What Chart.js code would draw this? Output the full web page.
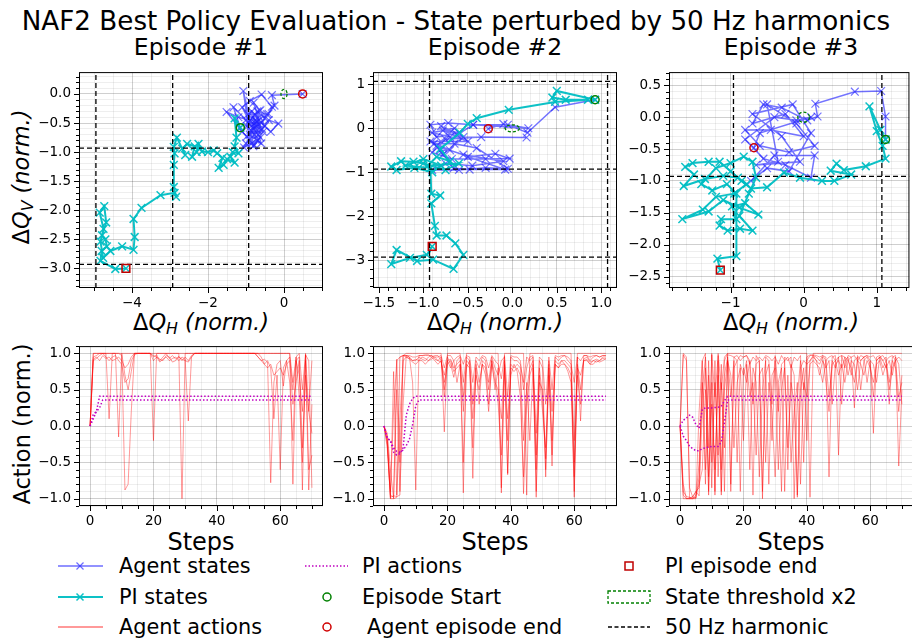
<!DOCTYPE html>
<html><head><meta charset="utf-8">
<script src="https://cdn.jsdelivr.net/npm/chart.js@4.4.1/dist/chart.umd.min.js"></script>
<style>
html,body{margin:0;padding:0;background:#fff}
body{width:912px;height:642px;overflow:hidden;position:relative;font-family:"DejaVu Sans",sans-serif;color:#000}
canvas{position:absolute}
.t{position:absolute;white-space:nowrap;line-height:1;transform:translate(-50%,-50%)}
.t.r{transform:translate(-50%,-50%) rotate(-90deg)}
.l{position:absolute;white-space:nowrap;line-height:1;transform:translateY(-50%);font-size:20.8px}
sub{font-size:0.7em;vertical-align:-0.3em;line-height:0}
</style></head><body>
<div class="t" style="left:456px;top:21px;font-size:26.2px">NAF2 Best Policy Evaluation - State perturbed by 50 Hz harmonics</div>
<div class="t" style="left:201px;top:48px;font-size:23.5px">Episode #1</div>
<div class="t" style="left:495px;top:48px;font-size:23.5px">Episode #2</div>
<div class="t" style="left:791px;top:48px;font-size:23.5px">Episode #3</div>
<div class="t" style="left:201px;top:322px;font-size:22.5px">Δ<i>Q<sub>H</sub> (norm.)</i></div>
<div class="t" style="left:495px;top:322px;font-size:22.5px">Δ<i>Q<sub>H</sub> (norm.)</i></div>
<div class="t" style="left:791px;top:322px;font-size:22.5px">Δ<i>Q<sub>H</sub> (norm.)</i></div>
<div class="t r" style="left:21px;top:177px;font-size:22.5px">Δ<i>Q<sub>V</sub> (norm.)</i></div>
<div class="t r" style="left:22px;top:424px;font-size:22.5px">Action (norm.)</div>
<div class="t" style="left:201px;top:542px;font-size:24px">Steps</div>
<div class="t" style="left:495px;top:542px;font-size:24px">Steps</div>
<div class="t" style="left:791px;top:542px;font-size:24px">Steps</div>

<svg style="position:absolute;left:0;top:550px" width="912" height="92">
  <line x1="58" y1="16" x2="103" y2="16" stroke="rgba(30,30,255,0.65)" stroke-width="1.6"/>
  <path d="M76.5 12.5 L83.5 19.5 M76.5 19.5 L83.5 12.5" stroke="rgba(30,30,255,0.65)" stroke-width="1.2"/>
  <line x1="58" y1="47" x2="103" y2="47" stroke="rgba(0,190,195,0.95)" stroke-width="2"/>
  <path d="M76.5 43.5 L83.5 50.5 M76.5 50.5 L83.5 43.5" stroke="rgba(0,190,195,0.95)" stroke-width="1.5"/>
  <line x1="58" y1="77" x2="103" y2="77" stroke="rgba(255,0,0,0.4)" stroke-width="2"/>
  <line x1="305" y1="16" x2="348" y2="16" stroke="#c000c0" stroke-width="1.5" stroke-dasharray="1.5 2"/>
  <circle cx="327" cy="47" r="4" fill="none" stroke="#008000" stroke-width="1.5"/>
  <circle cx="327" cy="77" r="4" fill="none" stroke="#d00000" stroke-width="1.5"/>
  <rect x="625" y="12" width="8" height="8" fill="none" stroke="#c00000" stroke-width="1.5"/>
  <rect x="608" y="41" width="42" height="12" fill="none" stroke="#008000" stroke-width="1.3" stroke-dasharray="3 2"/>
  <line x1="608" y1="77" x2="650" y2="77" stroke="#000" stroke-width="1.3" stroke-dasharray="4 2.5"/>
</svg>
<div class="l" style="left:119px;top:566px">Agent states</div>
<div class="l" style="left:119px;top:597px">PI states</div>
<div class="l" style="left:119px;top:627px">Agent actions</div>
<div class="l" style="left:362px;top:566px">PI actions</div>
<div class="l" style="left:362px;top:597px">Episode Start</div>
<div class="l" style="left:367px;top:627px">Agent episode end</div>
<div class="l" style="left:665px;top:566px">PI episode end</div>
<div class="l" style="left:665px;top:597px">State threshold x2</div>
<div class="l" style="left:665px;top:627px">50 Hz harmonic</div>

<script>
// ---------------- DATA ----------------
// State trajectories [dQ_H, dQ_V]; first point = episode start, last point = episode end
const ep1AgentStates = [[-1.15,-0.58],[-1.33,-0.23],[-1.0,-0.45],[-0.85,-0.3],[-0.76,-0.5],[-0.98,-0.73],[-0.7,-0.62],[-0.9,-0.45],[-1.07,0.05],[-0.95,-0.5],[-0.75,-0.55],[-0.85,-0.85],[-0.62,-0.75],[-1.05,-0.92],[-0.8,-0.6],[-0.5,-0.55],[-0.7,-0.3],[-0.45,-0.35],[-0.82,-0.4],[-0.6,-0.85],[-0.9,-0.7],[-0.72,-0.48],[-1.2,-0.4],[-1.51,-0.31],[-1.1,-0.65],[-0.78,-0.88],[-0.55,-0.65],[-0.75,-0.45],[-0.62,-0.28],[-0.98,-0.55],[-0.81,-0.9],[-0.68,-0.7],[-0.4,-0.45],[-0.15,-0.51],[-0.35,-0.65],[-0.6,-0.5],[-0.88,-0.62],[-0.7,-0.8],[-0.95,-0.35],[-0.76,-0.35],[-0.58,-0.6],[-0.78,-0.7],[-1.0,-0.85],[-0.72,-0.55],[-0.5,-0.42],[-0.8,-0.15],[-0.65,-0.45],[-0.85,-0.55],[-1.1,-0.23],[-0.9,-0.12],[-0.59,-0.01],[-0.32,-0.22],[-0.41,-0.34],[-0.25,-0.2],[-0.32,-0.02],[0.49,0.0]];
const ep1PIStates = [[-1.15,-0.58],[-1.3,-0.42],[-1.25,-0.75],[-1.3,-0.9],[-1.2,-1.02],[-1.35,-1.0],[-1.41,-1.08],[-1.3,-1.18],[-1.5,-1.12],[-1.59,-1.22],[-1.72,-1.27],[-1.62,-1.1],[-1.76,-1.02],[-1.85,-0.97],[-2.0,-1.0],[-2.16,-0.99],[-2.25,-0.86],[-2.3,-1.0],[-2.42,-1.08],[-2.35,-0.9],[-2.55,-0.86],[-2.68,-0.94],[-2.6,-1.05],[-2.82,-0.75],[-2.9,-0.91],[-2.88,-1.02],[-2.9,-1.22],[-2.9,-1.6],[-2.84,-1.77],[-2.88,-1.7],[-3.25,-1.74],[-3.75,-1.96],[-3.96,-2.15],[-3.93,-2.46],[-3.96,-2.68],[-4.26,-2.62],[-4.57,-2.7],[-4.76,-2.82],[-4.83,-2.54],[-4.75,-2.32],[-4.85,-2.04],[-4.73,-1.93],[-4.68,-2.21],[-4.79,-2.43],[-4.7,-2.5],[-4.66,-2.62],[-4.8,-2.7],[-4.83,-2.87],[-4.44,-3.01],[-4.16,-3.0]];
const ep2AgentStates = [[0.93,0.65],[0.48,0.48],[0.17,-0.1],[-0.05,0.08],[-0.44,0.08],[-0.72,0.12],[-0.92,0.08],[-0.85,-0.2],[-0.6,-0.1],[-0.78,-0.05],[-0.5,-0.3],[-0.92,-0.3],[-0.7,-0.5],[-0.81,-0.5],[-0.66,-0.91],[-0.48,-0.94],[-0.08,-0.94],[-0.5,-0.65],[-0.19,-0.58],[-0.03,-0.69],[-0.3,-0.7],[-0.68,-0.7],[-0.9,-0.55],[-0.75,-0.25],[-0.35,-0.2],[0.16,-0.21],[-0.7,-0.2],[-0.9,-0.1],[-0.65,0.0],[-0.85,-0.4],[-0.55,-0.6],[-0.1,-0.75],[-0.45,-0.85],[-0.75,-0.8],[-0.9,-0.95],[-0.6,-0.95],[-0.3,-0.9],[-0.05,-0.92],[-0.4,-0.45],[-0.65,-0.35],[-0.88,-0.35],[-0.78,-0.6],[-0.55,-0.2],[-0.8,0.05],[-0.62,-0.15],[-0.44,0.08],[0.18,0.0],[-0.1,0.1],[-0.27,-0.01]];
const ep2PIStates = [[0.93,0.65],[0.5,0.85],[0.45,0.7],[0.6,0.65],[0.85,0.65],[0.48,0.6],[-0.04,0.42],[-0.4,0.23],[-0.5,0.1],[-0.59,-0.1],[-0.81,-0.47],[-0.7,-0.75],[-0.85,-0.65],[-0.95,-0.85],[-0.6,-0.8],[-0.75,-0.95],[-1.0,-0.8],[-1.11,-0.76],[-1.25,-0.75],[-1.36,-0.87],[-1.3,-0.95],[-1.1,-0.9],[-0.9,-1.0],[-0.8,-0.85],[-1.0,-0.7],[-1.2,-0.85],[-0.92,-0.9],[-0.91,-1.49],[-0.81,-1.53],[-0.91,-1.71],[-0.87,-2.22],[-0.85,-2.44],[-0.74,-2.44],[-0.64,-2.62],[-0.55,-2.88],[-0.66,-3.2],[-0.89,-2.99],[-1.07,-3.02],[-1.3,-2.77],[-1.36,-3.09],[-1.15,-2.95],[-0.96,-2.88],[-0.9,-2.69]];
const ep3AgentStates = [[1.12,-0.35],[1.12,0.01],[1.06,0.41],[0.7,0.4],[0.16,0.21],[0.19,0.01],[0.05,-0.05],[-0.3,0.15],[-0.55,0.2],[-0.7,-0.1],[-0.25,0.05],[0.0,-0.3],[-0.45,-0.2],[-0.8,-0.2],[-0.6,-0.45],[-0.2,-0.55],[0.15,-0.45],[-0.1,-0.1],[-0.5,0.2],[-0.35,-0.7],[-0.65,-0.75],[-0.05,-0.7],[-0.3,-0.3],[-0.7,0.05],[-0.15,0.2],[0.1,-0.25],[-0.2,-0.85],[-0.5,-0.8],[-0.72,-1.0],[-0.4,-0.6],[0.15,-0.6],[0.1,-0.95],[-0.25,-0.75],[-0.55,-0.65],[-0.8,-0.35],[-0.4,0.0],[-0.1,-0.05],[0.1,0.0],[-0.6,-0.25],[-0.68,-0.48]];
const ep3PIStates = [[1.12,-0.35],[1.05,-0.2],[0.9,0.17],[1.0,-0.22],[1.08,-0.45],[1.12,-0.65],[0.85,-0.77],[0.55,-0.83],[0.45,-0.73],[0.37,-0.84],[0.65,-0.9],[0.42,-1.0],[0.25,-1.0],[-0.05,-0.95],[-0.27,-0.87],[-0.5,-1.1],[-0.72,-1.12],[-0.85,-1.0],[-1.0,-0.85],[-1.15,-0.7],[-1.3,-0.7],[-1.52,-0.72],[-1.62,-0.78],[-1.5,-0.9],[-1.64,-1.08],[-1.35,-0.97],[-1.1,-0.92],[-0.9,-0.95],[-0.78,-1.05],[-0.95,-1.2],[-1.2,-1.25],[-1.38,-1.45],[-1.66,-1.6],[-1.3,-1.48],[-1.1,-1.3],[-0.88,-1.42],[-0.62,-1.53],[-0.8,-1.35],[-0.98,-1.4],[-0.92,-1.6],[-1.13,-1.6],[-1.15,-1.7],[-1.04,-1.78],[-0.87,-1.75],[-0.7,-1.78],[-0.88,-1.55],[-0.75,-1.2],[-0.65,-0.95],[-0.7,-0.7],[-0.82,-0.62],[-1.0,-0.72],[-1.2,-0.8],[-1.4,-1.05],[-1.25,-1.15],[-1.05,-1.05],[-0.92,-1.2],[-0.92,-2.18],[-1.18,-2.22],[-1.14,-2.4]];

// 50 Hz harmonic positions (normalised) and state threshold x2
const ep1HarmonicX = [-4.95,-2.93,-0.93];
const ep1HarmonicY = [-0.93,-2.93];
const ep2HarmonicX = [-0.93,1.07];
const ep2HarmonicY = [1.07,-0.93,-2.93];
const ep3HarmonicX = [-0.96,1.07];
const ep3HarmonicY = [-0.93];
const stateThreshold2 = 0.08;

// Agent actions per step (index = step 0..70), one array per action dimension
const ep1AgentActions = [
 [0,1,1,1,1,1,1,1,1,1, 0.97,-0.88,-0.8,0.2,1,1,1,1,1,1, -0.2,1,1,1,1,1,1,1,1,-1, 1,1,1,1,1,1,1,1,1,1, 1,1,1,1,1,1,1,1,1,1, 1,1,1,1,1,1,1,1,1,1, 1,1,1,1,-0.8,0.9,0.95,-0.88,0.98,0.9,-0.85],
 [0,0.95,0.97,1,1,1,0.1,1,1,-0.15, 1,0.7,0.5,0.75,1,1,1,1,1,1, 0.9,0.95,0.88,0.92,0.95,0.9,0.93,0.95,0.9,0.95, 0.92,0.07,0.95,1,1,1,1,1,1,1, 1,1,1,1,1,1,1,1,1,1, 1,1,1,0.95,0.9,0.92,0.88,-0.78,0.6,0.85, 0.9,0.55,0.9,0.95,0.5,0.9,0.7,0.2,0.98,-0.6,-0.4],
 [0,0.9,0.93,0.97,1,0.95,0.9,0.95,0.97,0.9, 0.85,0.6,0.65,0.9,0.98,1,1,1,1,1, 0.95,0.98,0.9,0.95,1,0.93,0.97,0.92,0.96,0.9, 0.95,0.9,0.97,1,1,1,1,1,1,1, 1,1,1,1,1,1,1,1,1,1, 1,1,1,1,0.95,0.85,0.9,0.8,0.1,0.7, -0.6,0.8,0.9,0.6,-0.2,0.95,0.4,-0.5,0.9,-0.88,0.3],
 [0,0.92,0.95,0.9,0.97,0.93,0.95,0.9,0.92,0.95, 0.9,0.8,0.85,0.95,1,1,1,1,1,1, 0.97,0.95,0.92,0.9,0.97,0.95,0.88,0.9,0.95,0.92, 0.9,0.88,0.95,1,1,1,1,1,1,1, 1,1,1,1,1,1,1,1,1,1, 1,1,1,0.95,0.9,0.85,0.8,0.85,0.7,0.75, 0.8,0.7,0.85,0.9,0.3,0.6,0.9,-0.3,0.7,0.2,-0.1],
 [0,1,1,1,1,1,1,1,1,1, 1,1,1,1,1,1,1,1,1,1, 1,1,1,1,1,1,1,1,1,1, 1,1,1,1,1,1,1,1,1,1, 1,1,1,1,1,1,1,1,1,1, 1,1,1,1,1,1,1,1,1,1, 1,1,1,1,0.6,0.95,1,0.5,1,0.2,0.9]
];
const ep2AgentActions = [
 [0,-0.2,-1,-1,0.92,-0.5,0.97,1,1,1, 1,1,1,1,1,1,1,1,1,-0.08, 1,1,1,1,1,-0.92,1,1,1,1, 1,1,1,1,1,1,1,-0.92,1,1, 1,1,1,1,1,-0.95,1,1,1,1, 1,1,1,1,1,1,1,1,1,1, -0.98,1,1,1,1,1,1,1,1,1,1],
 [0,-0.2,-1,0.75,-0.95,0.95,0.97,0.97,0.95,0.6, -0.88,0.97,0.97,0.98,0.98,0.95,0.97,0.97,0.9,0.5, 0.95,0.85,0.67,0.9,0.95,0.6,0.95,0.9,-0.72,0.9, 0.8,0.95,0.9,0.6,0.95,0.8,0.7,0.9,0.95,-0.67, 0.95,0.9,0.9,0.85,0.6,0.95,0.9,0.95,-0.98,0.9, 0.8,-0.7,0.9,-0.55,0.95,0.9,0.95,0.97,0.9,0.85, 0.6,0.95,0.07,0.97,0.97,0.9,0.95,0.97,0.95,0.97,0.97],
 [0,-0.25,-0.95,-0.98,0.5,-0.9,0.3,0.97,0.95,0.9, 0.9,0.95,0.92,0.9,0.95,0.97,0.92,0.9,0.95,0.4, 0.9,0.92,0.8,0.85,0.9,0.2,0.9,0.85,-0.3,0.8, 0.3,0.9,0.85,0.5,0.9,0.7,0.3,-0.4,0.9,-0.2, 0.85,0.8,0.85,0.8,-0.2,0.5,0.8,0.9,-0.6,0.8, 0.4,-0.45,0.85,-0.2,0.9,0.85,0.9,0.9,0.85,0.8, -0.7,0.85,0.5,0.92,0.95,0.88,0.9,0.92,0.9,0.95,0.95],
 [0,-0.3,-0.98,-0.96,-0.97,-0.95,0.97,0.95,0.92,0.88, 0.85,0.9,0.9,0.85,0.9,0.95,0.9,0.85,0.9,0.6, 0.85,0.9,0.75,0.8,0.85,0.4,0.85,0.8,0.1,0.7, 0.5,0.85,0.8,0.3,0.85,0.6,0.5,0.1,0.85,-0.65, 0.8,0.75,0.8,0.7,-0.93,0.3,0.7,0.85,-0.4,0.7, 0.2,-0.3,0.8,0.2,0.85,0.8,0.85,0.85,0.8,0.7, -0.5,0.8,0.7,0.9,0.9,0.85,0.85,0.9,0.88,0.9,0.93],
 [0,-0.15,-0.9,0.2,0.9,0.95,0.97,0.97,0.97,0.95, 0.95,0.97,0.97,0.97,0.97,0.97,0.95,0.95,0.97,0.8, 0.97,0.97,0.9,0.95,0.97,0.85,0.97,0.95,0.6,0.95, 0.9,0.97,0.95,0.8,0.97,0.9,0.85,0.65,0.97,0.4, 0.97,0.95,0.95,0.9,0.5,0.8,0.95,0.97,-0.1,0.95, 0.9,0.3,0.95,0.5,0.97,0.95,0.97,0.97,0.95,0.9, -0.2,0.95,0.9,0.97,0.97,0.95,0.97,0.97,0.95,0.97,0.97],
 [0,-0.1,-0.6,-1,-0.98,0.1,0.9,0.95,0.93,0.9, 0.92,0.9,0.95,0.93,0.9,0.92,0.95,0.9,0.88,0.7, 0.9,0.8,0.9,0.6,0.85,-0.5,0.8,0.9,0.3,0.85, 0.6,0.85,0.7,0.2,0.9,0.5,0.8,-0.85,0.8,0.1, 0.7,0.85,0.75,0.4,-0.7,0.6,-0.2,0.8,-0.9,0.6, 0.5,-0.6,0.7,-0.4,0.85,0.8,0.9,0.85,0.75,0.6, -0.9,0.7,0.3,0.9,0.92,0.85,0.9,0.88,0.9,0.93,0.92]
];
const ep3AgentActions = [
 [0,1,0.95,-1,-1,-1,0.2,0.9,1,-0.9, 1,-0.95,1,0.5,0.95,1,1,1,1,1, 1,1,1,1,1,1,1,1,1,1, 1,1,1,1,1,1,1,1,1,1, 1,-0.98,1,1,1,1,1,1,1,1, 1,1,1,1,1,1,1,1,1,1, 1,1,1,1,1,1,1,1,1,1,1],
 [0,-1,-1,-1,-1,-0.98,-0.5,0.5,0.95,-0.3, 0.98,0.4,0.97,-0.9,0.9,1,-0.9,0.95,0.97,0.9, 0.95,0.97,0.9,-0.95,0.97,0.9,-1,0.95,0.9,0.3, 0.97,0.5,-0.9,0.95,0.9,0.95,-1,0.4,0.9,0.5, 0.95,0.98,0.97,0.95,0.9,0.97,0.95,-0.7,0.95,0.97, -0.4,0.97,0.95,0.9,0.95,0.25,0.97,0.9,0.95,0.97, 0.9,-0.1,0.95,0.97,0.9,0.95,0.3,0.95,0.97,-0.55,0.5],
 [0,-0.95,-1,-1,-0.98,-0.9,-0.96,0.2,0.8,-0.95, 0.6,-0.9,0.9,-0.6,0.7,0.95,0.4,0.9,-0.5,0.85, 0.7,0.9,-0.6,0.8,0.6,-0.7,0.5,0.9,-0.8,0.7, 0.8,-0.6,0.5,0.8,-0.3,0.6,0.3,-0.98,0.5,0.8, -0.2,0.9,0.97,0.9,0.85,0.95,0.6,0.2,0.9,0.8, 0.95,0.3,0.9,0.95,0.7,0.9,0.95,0.5,0.9,0.95, 0.85,0.4,0.9,0.95,0.8,0.9,0.6,0.9,0.8,0.2,0.7],
 [0,-0.9,-0.97,-0.98,-1,-0.95,-0.8,-0.6,0.5,-0.7, 0.3,-0.6,0.7,-0.95,0.5,0.9,0.7,-0.3,0.6,0.8, -0.2,0.85,0.4,0.6,-0.4,0.7,0.8,-0.5,0.6,0.2, -0.7,0.6,0.8,-0.9,0.7,-0.5,0.2,0.6,-0.8,0.6, 0.4,0.85,0.9,0.85,0.8,0.6,0.9,0.4,0.85,0.9, 0.7,0.85,0.6,0.9,0.8,0.6,0.9,0.85,0.7,0.9, 0.8,0.6,0.85,0.9,0.7,0.85,0.5,0.8,0.9,0.4,0.6],
 [0,0.98,0.9,-0.85,-0.98,-0.99,-0.7,0.6,-0.8,0.9, -0.5,0.6,-0.4,0.85,-0.9,0.98,0.97,0.95,0.9,0.97, 0.95,0.97,0.85,0.95,0.9,0.95,0.9,0.97,0.95,0.9, 0.95,0.85,0.97,0.9,0.95,0.8,0.95,0.9,0.97,-0.5, 0.9,0.97,0.98,0.97,0.95,0.97,0.9,0.95,0.97,0.9, 0.95,0.97,0.8,0.97,0.95,0.97,0.9,0.97,0.95,0.97, 0.95,0.97,0.9,0.95,0.97,0.9,0.95,0.97,0.9,0.95,0.9],
 [0,-0.8,-1,-0.99,-0.97,-0.9,-0.85,0.9,-0.6,0.7, -0.85,0.9,-0.7,0.6,-0.3,0.9,-0.8,0.8,0.9,-0.9, 0.8,0.6,0.9,0.3,0.85,0.9,-0.9,0.7,0.85,-0.2, 0.9,0.2,0.85,0.9,-0.6,0.85,0.7,-0.95,0.8,0.9, 0.85,0.9,0.95,0.9,0.7,0.9,0.8,0.9,0.3,0.85, 0.9,0.8,0.95,0.7,0.9,0.85,0.5,0.9,0.95,0.6, 0.9,0.85,0.6,0.95,0.9,0.8,0.9,0.7,0.95,0.85,0.3]
];
// PI actions as [step, value] (value constant between listed steps)
const ep1PIActions = [
 [[0,0],[1,0.16],[2,0.2],[3,0.41],[70,0.41]],
 [[0,0],[1,0.1],[2,0.2],[3,0.25],[4,0.36],[70,0.36]]
];
const ep2PIActions = [
 [[0,0],[1,-0.17],[2,-0.2],[3,-0.36],[4,-0.4],[5,-0.38],[6,-0.3],[7,0.15],[8,0.3],[9,0.38],[10,0.41],[70,0.41]],
 [[0,0],[1,-0.17],[2,-0.2],[3,-0.3],[4,-0.35],[5,-0.36],[6,-0.33],[7,-0.27],[8,-0.18],[9,0.02],[10,0.28],[11,0.36],[70,0.36]]
];
const ep3PIActions = [
 [[0,0],[1,0.08],[2,0.11],[3,0.15],[4,0.12],[5,0.02],[6,-0.03],[7,0.23],[8,0.25],[10,0.25],[12,0.26],[13,0.27],[14,0.35],[15,0.41],[70,0.41]],
 [[0,0],[1,-0.14],[2,-0.2],[3,-0.28],[4,-0.31],[5,-0.34],[6,-0.34],[7,-0.31],[8,-0.3],[10,-0.28],[12,-0.28],[13,-0.22],[14,0.05],[15,0.36],[70,0.36]]
];

// Axis ranges, ticks and labels
const ep1XRange = [-5.395,1.026], ep1YRange = [-3.337,0.376];
const ep2XRange = [-1.565,1.176], ep2YRange = [-3.635,1.279];
const ep3XRange = [-1.842,1.447], ep3YRange = [-2.68,0.707];
const stepRange = [-3.5,73.5], actionRange = [-1.1,1.1];
const ep1XTicks = [-4,-2,0], ep1XLabels = ['−4','−2','0'];
const ep1YTicks = [0,-0.5,-1,-1.5,-2,-2.5,-3], ep1YLabels = ['0.0','−0.5','−1.0','−1.5','−2.0','−2.5','−3.0'];
const ep2XTicks = [-1.5,-1,-0.5,0,0.5,1], ep2XLabels = ['−1.5','−1.0','−0.5','0.0','0.5','1.0'];
const ep2YTicks = [1,0,-1,-2,-3], ep2YLabels = ['1','0','−1','−2','−3'];
const ep3XTicks = [-1,0,1], ep3XLabels = ['−1','0','1'];
const ep3YTicks = [0.5,0,-0.5,-1,-1.5,-2,-2.5], ep3YLabels = ['0.5','0.0','−0.5','−1.0','−1.5','−2.0','−2.5'];
const stepTicks = [0,20,40,60], stepLabels = ['0','20','40','60'];
const actionTicks = [1,0.5,0,-0.5,-1], actionLabels = ['1.0','0.5','0.0','−0.5','−1.0'];

// ---------------- DRAWING ----------------
const MAJOR = 'rgba(0,0,0,0.19)', MINOR = 'rgba(0,0,0,0.065)';
const FONT = {family:"'DejaVu Sans', sans-serif", size:13.5};
const near = (a,b) => Math.abs(a-b) < 1e-6;

function tickSet(range, majors, minorStep){
  const vals = [];
  const k0 = Math.ceil(range[0]/minorStep - 1e-9);
  for (let k = k0; k*minorStep <= range[1] + 1e-9; k++) vals.push(Math.round(k*minorStep*1e6)/1e6);
  majors.forEach(m => { if (!vals.some(v => near(v,m))) vals.push(m); });
  return vals.sort((a,b) => a-b);
}
function axis(range, majors, labels, minorStep, isX, fitSize){
  const all = tickSet(range, majors, minorStep);
  return {
    type:'linear', min:range[0], max:range[1],
    afterBuildTicks: s => { s.ticks = all.map(v => ({value:v})); },
    afterFit: s => { if (isX) s.height = fitSize; else s.width = fitSize; },
    ticks:{autoSkip:false, maxRotation:0, minRotation:0, padding: isX ? 7 : 8, color:'#000', font:FONT,
      callback: v => { const i = majors.findIndex(m => near(m,v)); return i < 0 ? '' : labels[i]; }},
    grid:{drawTicks:false, lineWidth:1, color: c => (c.tick && majors.some(m => near(m,c.tick.value))) ? MAJOR : MINOR},
    border:{display:false}
  };
}
function framePlugin(xMaj, yMaj, ellipse){
  return {
    id:'frame',
    afterDatasetsDraw(chart){
      if (!ellipse) return;
      const {ctx, chartArea:a, scales:{x,y}} = chart;
      const cx = x.getPixelForValue(0), cy = y.getPixelForValue(0);
      const rx = Math.abs(x.getPixelForValue(ellipse) - cx), ry = Math.abs(y.getPixelForValue(ellipse) - cy);
      ctx.save();
      ctx.beginPath(); ctx.rect(a.left, a.top, a.right-a.left, a.bottom-a.top); ctx.clip();
      ctx.strokeStyle = '#008000'; ctx.lineWidth = 1.3; ctx.setLineDash([3,2]);
      ctx.beginPath(); ctx.ellipse(cx, cy, rx, ry, 0, 0, Math.PI*2); ctx.stroke();
      ctx.restore();
    },
    afterDraw(chart){
      const {ctx, chartArea:a, scales:{x,y}} = chart;
      ctx.save();
      ctx.strokeStyle = '#000'; ctx.lineWidth = 1;
      ctx.strokeRect(a.left+0.5, a.top+0.5, a.right-a.left-1, a.bottom-a.top-1);
      ctx.beginPath();
      x.ticks.forEach(t => {
        const px = Math.round(x.getPixelForValue(t.value)) + 0.5;
        const len = xMaj.some(m => near(m,t.value)) ? 5 : 3;
        ctx.moveTo(px, a.bottom); ctx.lineTo(px, a.bottom + len);
      });
      y.ticks.forEach(t => {
        const py = Math.round(y.getPixelForValue(t.value)) + 0.5;
        const len = yMaj.some(m => near(m,t.value)) ? 5 : 3;
        ctx.moveTo(a.left, py); ctx.lineTo(a.left - len, py);
      });
      ctx.stroke();
      ctx.restore();
    }
  };
}
function place(rect, area){
  const c = document.createElement('canvas');
  c.width = rect[2]; c.height = rect[3];
  c.style.left = rect[0]+'px'; c.style.top = rect[1]+'px';
  c.style.width = rect[2]+'px'; c.style.height = rect[3]+'px';
  document.body.appendChild(c);
  return {canvas:c, yW:area[0]-rect[0], padTop:area[1]-rect[1], padRight:rect[0]+rect[2]-area[2], xH:rect[1]+rect[3]-area[3]};
}
function baseOptions(p, xAxis, yAxis){
  return {
    responsive:false, animation:false, events:[], devicePixelRatio:1,
    layout:{padding:{left:0, top:p.padTop, right:p.padRight, bottom:0}, autoPadding:false},
    plugins:{legend:{display:false}, tooltip:{enabled:false}, title:{display:false}},
    scales:{x:xAxis, y:yAxis}
  };
}
const xy = arr => arr.map(q => ({x:q[0], y:q[1]}));
function marker(pt, style, color, radius){
  return {data:xy([pt]), showLine:false, pointStyle:style, pointRadius:radius, pointBorderColor:color,
          pointBackgroundColor:'rgba(0,0,0,0)', pointBorderWidth:1.5, order:0};
}
function stateChart(rect, area, xr, yr, xt, xl, xmin, yt, yl, ymin, agent, pi, hx, hy){
  const p = place(rect, area);
  const ds = [];
  ds.push(marker(agent[0], 'circle', '#008000', 4));
  ds.push(marker(agent[agent.length-1], 'circle', '#d00000', 4));
  ds.push(marker(pi[pi.length-1], 'rect', '#c00000', 5.5));
  const dash = {showLine:true, borderColor:'#000', borderWidth:1.3, borderDash:[5,3], pointRadius:0, order:1};
  hx.forEach(v => ds.push(Object.assign({data:[{x:v,y:yr[0]},{x:v,y:yr[1]}]}, dash)));
  hy.forEach(v => ds.push(Object.assign({data:[{x:xr[0],y:v},{x:xr[1],y:v}]}, dash)));
  ds.push({data:xy(pi), showLine:true, borderColor:'rgba(0,190,195,0.95)', borderWidth:2, pointStyle:'crossRot',
           pointRadius:5.5, pointBorderColor:'rgba(0,190,195,0.95)', pointBackgroundColor:'rgba(0,0,0,0)', pointBorderWidth:1.5, order:2});
  ds.push({data:xy(agent), showLine:true, borderColor:'rgba(30,30,255,0.62)', borderWidth:1.5, pointStyle:'crossRot',
           pointRadius:5.5, pointBorderColor:'rgba(30,30,255,0.62)', pointBackgroundColor:'rgba(0,0,0,0)', pointBorderWidth:1.2, order:3});
  new Chart(p.canvas, {type:'scatter', data:{datasets:ds},
    options: baseOptions(p, axis(xr, xt, xl, xmin, true, p.xH), axis(yr, yt, yl, ymin, false, p.yW)),
    plugins:[framePlugin(xt, yt, stateThreshold2)]});
}
function actionChart(rect, area, agentLines, piLines){
  const p = place(rect, area);
  const ds = [];
  piLines.forEach(l => ds.push({data:xy(l), showLine:true, borderColor:'#c000c0', borderWidth:1.5, borderDash:[1.5,2],
                                pointRadius:0, order:0}));
  agentLines.forEach(l => ds.push({data:l.map((v,i) => ({x:i, y:v})), showLine:true, borderColor:'rgba(255,0,0,0.4)',
                                   borderWidth:1, pointRadius:0, order:1}));
  new Chart(p.canvas, {type:'scatter', data:{datasets:ds},
    options: baseOptions(p, axis(stepRange, stepTicks, stepLabels, 5, true, p.xH), axis(actionRange, actionTicks, actionLabels, 0.1, false, p.yW)),
    plugins:[framePlugin(stepTicks, actionTicks, 0)]});
}

stateChart([0,56,335,256],[79,64,323,288], ep1XRange, ep1YRange, ep1XTicks, ep1XLabels, 0.5, ep1YTicks, ep1YLabels, 0.1, ep1AgentStates, ep1PIStates, ep1HarmonicX, ep1HarmonicY);
stateChart([330,56,300,256],[373,64,617,288], ep2XRange, ep2YRange, ep2XTicks, ep2XLabels, 0.1, ep2YTicks, ep2YLabels, 0.2, ep2AgentStates, ep2PIStates, ep2HarmonicX, ep2HarmonicY);
stateChart([625,56,288,256],[669,64,913,288], ep3XRange, ep3YRange, ep3XTicks, ep3XLabels, 0.2, ep3YTicks, ep3YLabels, 0.1, ep3AgentStates, ep3PIStates, ep3HarmonicX, ep3HarmonicY);
actionChart([0,330,335,210],[79,339,323,506], ep1AgentActions, ep1PIActions);
actionChart([330,330,300,210],[373,339,617,506], ep2AgentActions, ep2PIActions);
actionChart([625,330,288,210],[669,339,913,506], ep3AgentActions, ep3PIActions);
</script>
</body></html>
